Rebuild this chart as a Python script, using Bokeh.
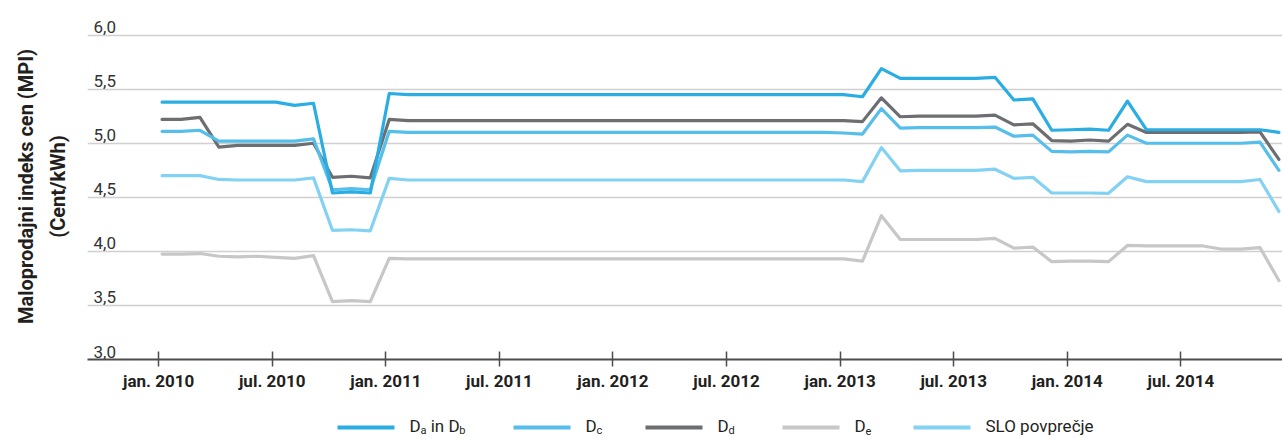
from bokeh.plotting import figure
from bokeh.models import Range1d, FixedTicker
from bokeh.layouts import column
from bokeh.embed import file_html
from bokeh.resources import INLINE
from bokeh.core.properties import value

# ---------------- data (monthly, Jan 2010 .. Dec 2014) ----------------
month_index = list(range(60))

da_db = [5.38, 5.38, 5.38, 5.38, 5.38, 5.38, 5.38, 5.35, 5.37, 4.54, 4.55, 4.54,
         5.46, 5.45, 5.45, 5.45, 5.45, 5.45, 5.45, 5.45, 5.45, 5.45, 5.45, 5.45,
         5.45, 5.45, 5.45, 5.45, 5.45, 5.45, 5.45, 5.45, 5.45, 5.45, 5.45, 5.45,
         5.45, 5.43, 5.69, 5.60, 5.60, 5.60, 5.60, 5.60, 5.61, 5.40, 5.41, 5.12,
         5.125, 5.13, 5.12, 5.39, 5.125, 5.125, 5.125, 5.125, 5.125, 5.125, 5.125, 5.10]

d_c = [5.11, 5.11, 5.12, 5.02, 5.02, 5.02, 5.02, 5.02, 5.04, 4.57, 4.58, 4.57,
       5.11, 5.10, 5.10, 5.10, 5.10, 5.10, 5.10, 5.10, 5.10, 5.10, 5.10, 5.10,
       5.10, 5.10, 5.10, 5.10, 5.10, 5.10, 5.10, 5.10, 5.10, 5.10, 5.10, 5.10,
       5.095, 5.085, 5.32, 5.14, 5.145, 5.145, 5.145, 5.145, 5.15, 5.065, 5.075, 4.925,
       4.92, 4.925, 4.92, 5.075, 5.00, 5.00, 5.00, 5.00, 5.00, 5.00, 5.01, 4.75]

d_d = [5.22, 5.22, 5.24, 4.965, 4.98, 4.98, 4.98, 4.98, 5.00, 4.685, 4.695, 4.68,
       5.22, 5.21, 5.21, 5.21, 5.21, 5.21, 5.21, 5.21, 5.21, 5.21, 5.21, 5.21,
       5.21, 5.21, 5.21, 5.21, 5.21, 5.21, 5.21, 5.21, 5.21, 5.21, 5.21, 5.21,
       5.21, 5.20, 5.42, 5.245, 5.25, 5.25, 5.25, 5.25, 5.26, 5.17, 5.18, 5.025,
       5.02, 5.03, 5.02, 5.175, 5.10, 5.10, 5.10, 5.10, 5.10, 5.10, 5.105, 4.85]

d_e = [3.975, 3.975, 3.98, 3.955, 3.95, 3.955, 3.945, 3.935, 3.96, 3.535, 3.545, 3.535,
       3.935, 3.93, 3.93, 3.93, 3.93, 3.93, 3.93, 3.93, 3.93, 3.93, 3.93, 3.93,
       3.93, 3.93, 3.93, 3.93, 3.93, 3.93, 3.93, 3.93, 3.93, 3.93, 3.93, 3.93,
       3.93, 3.91, 4.33, 4.11, 4.11, 4.11, 4.11, 4.11, 4.12, 4.03, 4.04, 3.905,
       3.91, 3.91, 3.905, 4.055, 4.05, 4.05, 4.05, 4.05, 4.02, 4.02, 4.035, 3.73]

slo_avg = [4.70, 4.70, 4.70, 4.665, 4.66, 4.66, 4.66, 4.66, 4.68, 4.195, 4.20, 4.19,
           4.675, 4.66, 4.66, 4.66, 4.66, 4.66, 4.66, 4.66, 4.66, 4.66, 4.66, 4.66,
           4.66, 4.66, 4.66, 4.66, 4.66, 4.66, 4.66, 4.66, 4.66, 4.66, 4.66, 4.66,
           4.66, 4.645, 4.96, 4.745, 4.75, 4.75, 4.75, 4.75, 4.76, 4.675, 4.685, 4.54,
           4.54, 4.54, 4.537, 4.69, 4.645, 4.645, 4.645, 4.645, 4.645, 4.645, 4.665, 4.37]

xtick_months = [0, 6, 12, 18, 24, 30, 36, 42, 48, 54]
xtick_labels = ["jan. 2010", "jul. 2010", "jan. 2011", "jul. 2011", "jan. 2012",
                "jul. 2012", "jan. 2013", "jul. 2013", "jan. 2014", "jul. 2014"]
ytick_values = [3.0, 3.5, 4.0, 4.5, 5.0, 5.5, 6.0]
ytick_labels = ["3,0", "3,5", "4,0", "4,5", "5,0", "5,5", "6,0"]

series = [da_db, d_c, d_d, d_e, slo_avg]
colors = ["#2AADE3", "#56BEEB", "#6D6E71", "#C7C7C7", "#84D2F3"]

# ---------------- styling ----------------
FONT = "Roboto"
TXT = "#231F20"

x_start, x_end = -3.94, 59.19
p = figure(width=1282, height=406,
           x_range=Range1d(x_start, x_end), y_range=Range1d(3.0, 6.2),
           output_backend="svg", toolbar_location=None,
           min_border_left=87, min_border_right=0, min_border_top=13,
           min_border_bottom=47)
p.outline_line_color = None
p.background_fill_color = "white"
p.border_fill_color = "white"
p.xgrid.visible = False
p.ygrid.ticker = FixedTicker(ticks=ytick_values)
p.ygrid.grid_line_color = "#D0D0D0"
p.ygrid.grid_line_width = 1.5

# y axis: only the title
p.yaxis.ticker = FixedTicker(ticks=[])
p.yaxis.axis_line_color = None
p.yaxis.major_tick_line_color = None
p.yaxis.minor_tick_line_color = None
p.yaxis.axis_label = "Maloprodajni indeks cen (MPI)\n(Cent/kWh)"
p.yaxis.axis_label_text_font = FONT
p.yaxis.axis_label_text_font_style = "bold"
p.yaxis.axis_label_text_font_size = "20px"
p.yaxis.axis_label_text_color = TXT
p.yaxis.axis_label_text_line_height = 1.3
p.yaxis.axis_label_standoff = 18

# x axis
xtick_pos = [m - 0.18 for m in xtick_months]
p.xaxis.ticker = FixedTicker(ticks=xtick_pos)
p.xaxis.major_label_overrides = dict(zip(xtick_pos, xtick_labels))
p.xaxis.axis_line_color = "#4D4D4D"
p.xaxis.axis_line_width = 2
p.xaxis.major_tick_line_color = "#4D4D4D"
p.xaxis.major_tick_line_width = 1.5
p.xaxis.major_tick_in = 8
p.xaxis.major_tick_out = 7
p.xaxis.minor_tick_line_color = None
p.xaxis.major_label_text_font = FONT
p.xaxis.major_label_text_font_style = "bold"
p.xaxis.major_label_text_font_size = "17px"
p.xaxis.major_label_text_color = TXT
p.xaxis.major_label_standoff = 4

# y tick labels drawn inside the plot, above their grid lines
p.text(x=[x_start] * len(ytick_values), y=ytick_values, text=ytick_labels,
       text_font=value(FONT), text_font_size="17px", text_color="#333333",
       text_align="left", text_baseline="alphabetic", x_offset=6, y_offset=-8)

# series lines (drawn so that D_a in D_b ends up on top)
for vals, col in reversed(list(zip(series, colors))):
    p.line(month_index, vals, line_color=col, line_width=3.2,
           line_join="round", line_cap="round")

# ---------------- legend (separate strip, page-pixel coordinates) ----------------
leg = figure(width=1282, height=33, x_range=Range1d(87, 1282), y_range=Range1d(439, 406),
             output_backend="svg", toolbar_location=None,
             x_axis_type=None, y_axis_type=None,
             min_border_left=87, min_border_right=0, min_border_top=0, min_border_bottom=0)
leg.outline_line_color = None
leg.grid.visible = False

item_left = [337, 513, 645, 782, 913]
line_len = 57
line_y = 427
text_gap = 72
main_mid_y = 425
sub_mid_y = 430
MAIN_SIZE = "17px"
SUB_SIZE = "11px"
w_D = 11.1
w_sub = 5.9
w_space = 4.2
w_in_D = 28.6

# swatches
leg.segment(x0=item_left, y0=[line_y] * 5, x1=[x + line_len for x in item_left],
            y1=[line_y] * 5, line_color=colors, line_width=4)

# label pieces
main_x, main_t, sub_x, sub_t = [], [], [], []
t0 = item_left[0] + text_gap
main_x += [t0, t0 + w_D + w_sub + w_space]
main_t += ["D", "in D"]
sub_x += [t0 + w_D, t0 + w_D + w_sub + w_space + w_in_D]
sub_t += ["a", "b"]
for i, s in zip([1, 2, 3], ["c", "d", "e"]):
    t = item_left[i] + text_gap
    main_x.append(t)
    main_t.append("D")
    sub_x.append(t + w_D)
    sub_t.append(s)
main_x.append(item_left[4] + text_gap)
main_t.append("SLO povprečje")

leg.text(x=main_x, y=[main_mid_y] * len(main_x), text=main_t, text_font=value(FONT),
         text_font_size=MAIN_SIZE, text_color=TXT, text_align="left",
         text_baseline="middle")
leg.text(x=sub_x, y=[sub_mid_y] * len(sub_x), text=sub_t, text_font=value(FONT),
         text_font_size=SUB_SIZE, text_color=TXT, text_align="left",
         text_baseline="middle")

layout = column(p, leg, spacing=0)
open("out.html", "w").write(file_html(layout, INLINE))
